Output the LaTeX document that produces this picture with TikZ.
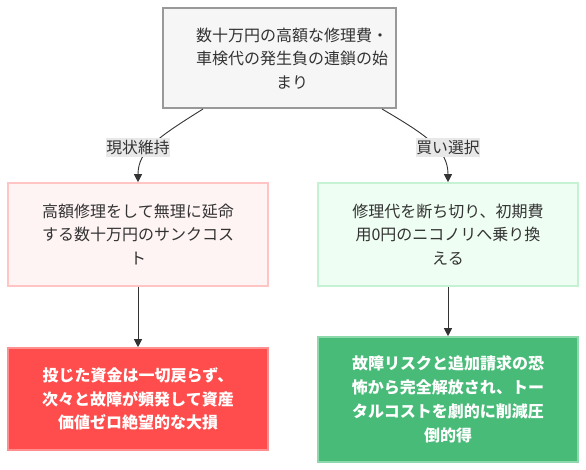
\documentclass[tikz,border=0pt]{standalone}
\usepackage{fontspec}
\setmainfont{Noto Sans CJK JP}
\usetikzlibrary{arrows.meta}
\definecolor{txt}{HTML}{333333}
\definecolor{topfill}{HTML}{F6F6F6}
\definecolor{topdraw}{HTML}{999999}
\definecolor{pinkfill}{HTML}{FFF4F4}
\definecolor{pinkdraw}{HTML}{FFC4C4}
\definecolor{mintfill}{HTML}{EFFEF3}
\definecolor{mintdraw}{HTML}{C4F2D2}
\definecolor{redfill}{HTML}{FF4D4D}
\definecolor{reddraw}{HTML}{FF8F8F}
\definecolor{grnfill}{HTML}{48BB78}
\definecolor{grndraw}{HTML}{8ED9AC}
\definecolor{lblfill}{HTML}{E8E8E8}
\definecolor{edge}{HTML}{333333}
\tikzset{
  box/.style={draw, line width=1.6pt, align=center, text=txt, inner sep=0pt,
    font=\fontsize{16}{23.8}\selectfont},
  plaintext/.style={align=center, text=txt, inner sep=0pt,
    font=\fontsize{16}{23.8}\selectfont},
  lbl/.style={fill=lblfill, text=txt, inner xsep=0.5pt, inner ysep=2pt,
    font=\fontsize{15.8}{18}\selectfont},
  conn/.style={draw=edge, line width=0.9pt, -{Triangle[width=8pt,length=8pt]}},
}
\begin{document}
\begin{tikzpicture}[x=1pt,y=-1pt]
\useasboundingbox (0,0) rectangle (586,470);
\node[box, fill=topfill, draw=topdraw, minimum width=233pt, minimum height=100pt] (top) at (279.5,58) {};
\node[plaintext] (toptext) at (292,58.5)
  {数十万円の高額な修理費・\\車検代の発生負の連鎖の始\\まり};
\node[box, fill=pinkfill, draw=pinkdraw, minimum width=260pt, minimum height=103pt] (lmid) at (138,234.5)
  {高額修理をして無理に延命\\する数十万円のサンクコス\\ト};
\node[box, fill=mintfill, draw=mintdraw, minimum width=260pt, minimum height=103pt] (rmid) at (448,234.5)
  {修理代を断ち切り、初期費\\用0円のニコノリへ乗り換\\える};
\node[box, fill=redfill, draw=reddraw, text=white, font=\fontsize{16}{23.8}\selectfont\bfseries,
  minimum width=260pt, minimum height=102pt] (lbot) at (138,399)
  {投じた資金は一切戻らず、\\次々と故障が頻発して資産\\価値ゼロ絶望的な大損};
\node[box, fill=grnfill, draw=grndraw, text=white, font=\fontsize{16}{23.8}\selectfont\bfseries,
  minimum width=260pt, minimum height=125pt] (rbot) at (448,399.5)
  {故障リスクと追加請求の恐\\怖から完全解放され、トー\\タルコストを劇的に削減圧\\倒的得};
\coordinate (tl) at (203,109);
\coordinate (tr) at (382,109);
\draw[conn] (tl) .. controls (160,136) and (138,150) .. (lmid.north);
\draw[conn] (tr) .. controls (428,136) and (448,150) .. (rmid.north);
\node[lbl] (l1) at (138,147.5) {現状維持};
\node[lbl] (l2) at (448,147.5) {買い選択};
\draw[conn] (lmid.south) -- (lbot.north);
\draw[conn] (rmid.south) -- (rbot.north);
\end{tikzpicture}
\end{document}
